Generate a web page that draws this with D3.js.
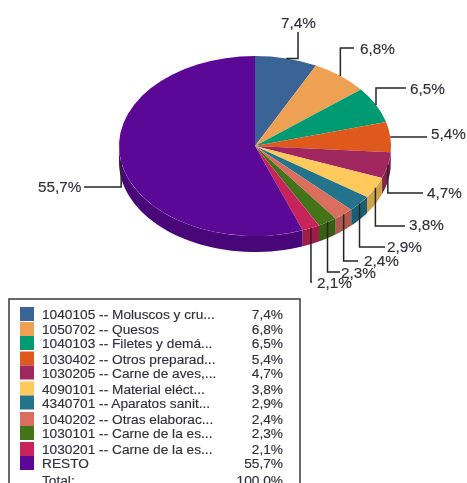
<!DOCTYPE html>
<html><head><meta charset="utf-8">
<script src="https://cdn.jsdelivr.net/npm/d3@7"></script>
<style>
html,body{margin:0;padding:0;background:#fff;overflow:hidden}
svg{display:block;filter:blur(0.5px)}
text{font-family:"Liberation Sans",Arial,sans-serif;fill:#30303a;stroke:#30303a;stroke-width:0.15px}
</style></head><body>
<svg id="c" width="467" height="483"></svg>
<script>
const codes = ["1040105 -- Moluscos y cru...","1050702 -- Quesos","1040103 -- Filetes y demá...","1030402 -- Otros preparad...","1030205 -- Carne de aves,...","4090101 -- Material eléct...","4340701 -- Aparatos sanit...","1040202 -- Otras elaborac...","1030101 -- Carne de la es...","1030201 -- Carne de la es...","RESTO"];
const values = [7.4,6.8,6.5,5.4,4.7,3.8,2.9,2.4,2.3,2.1,55.7];
const colors = ["#3a6496","#eea152","#009b72","#e0591c","#a1275f","#ffc95c","#24738c","#d96e5e","#44741a","#c9235c","#5b0896"];
const totalLabel = "Total:", totalValue = "100,0%";

const fmt = v => v.toFixed(1).replace(".", ",") + "%";
const svg = d3.select("#c");
const cx = 255, cy = 146, rx = 136, ry = 90, depth = 16;
const pie = d3.pie().sort(null).value(d => d)(values);
const arc = d3.arc().innerRadius(0).outerRadius(rx);
const px = a => cx + rx * Math.sin(a), py = a => cy - ry * Math.cos(a);

// side wall (front half of the ellipse only)
const side = svg.append("g");
pie.forEach((s, i) => {
  const a0 = Math.max(s.startAngle, Math.PI / 2), a1 = Math.min(s.endAngle, 3 * Math.PI / 2);
  if (a1 <= a0) return;
  const ts = d3.range(0, 41).map(k => a0 + (a1 - a0) * k / 40);
  const pts = ts.map(a => [px(a), py(a)]).concat(ts.slice().reverse().map(a => [px(a), py(a) + depth]));
  side.append("path").attr("d", d3.line()(pts) + "Z")
    .attr("fill", d3.color(colors[i]).darker(0.6));
});
// top face
svg.append("g").attr("transform", `translate(${cx},${cy}) scale(1,${ry / rx})`)
  .selectAll("path").data(pie).join("path")
  .attr("d", arc).attr("fill", (d, i) => colors[i]);

// leaders: route + label placement
const labelLayout = [
  {via: a => [[298, a[1]], [298, 32]], x: 281, y: 28},
  {via: a => [[a[0], 48], [354, 48]], x: 360, y: 54},
  {via: a => [[a[0], 88], [406, 88]], x: 410, y: 94},
  {via: a => [[427, a[1]]], x: 431, y: 139},
  {via: a => [[a[0], 193], [423, 193]], x: 427, y: 198},
  {via: a => [[a[0], 226], [405, 226]], x: 409, y: 230},
  {via: a => [[a[0], 247], [385, 247]], x: 387, y: 252},
  {via: a => [[a[0], 261], [358, 261]], x: 364, y: 266},
  {via: a => [[a[0], 272], [340, 272]], x: 341, y: 278},
  {via: a => [[a[0], 282], [312, 282]], x: 317, y: 288},
  {via: a => [[a[0], 187], [84, 187]], x: 38, y: 192}
];
const lead = svg.append("g");
pie.forEach((s, i) => {
  const m = (s.startAngle + s.endAngle) / 2, a = [px(m), py(m)], L = labelLayout[i];
  lead.append("path").attr("d", d3.line()([a, ...L.via(a)]))
    .attr("fill", "none").attr("stroke", "#262626").attr("stroke-width", 1.5);
  lead.append("text").attr("x", L.x).attr("y", L.y).attr("font-size", 15.3).text(fmt(values[i]));
});

// legend
svg.append("rect").attr("x", 9).attr("y", 299).attr("width", 291).attr("height", 200)
  .attr("fill", "#fff").attr("stroke", "#444").attr("stroke-width", 1.6);
const rowY = [314, 329, 343, 358.5, 372.5, 388.5, 402.5, 419, 433, 449, 463];
const leg = svg.append("g");
const fs = 13.7;
codes.forEach((c, i) => {
  leg.append("rect").attr("x", 20).attr("y", rowY[i] - 7).attr("width", 14).attr("height", 14).attr("fill", colors[i]);
  leg.append("text").attr("x", 42).attr("y", rowY[i] + 5).attr("font-size", fs).text(c);
  leg.append("text").attr("x", 283).attr("y", rowY[i] + 5).attr("font-size", fs).attr("text-anchor", "end").text(fmt(values[i]));
});
leg.append("text").attr("x", 42).attr("y", 485).attr("font-size", fs).text(totalLabel);
leg.append("text").attr("x", 283).attr("y", 485).attr("font-size", fs).attr("text-anchor", "end").text(totalValue);
</script></body></html>
